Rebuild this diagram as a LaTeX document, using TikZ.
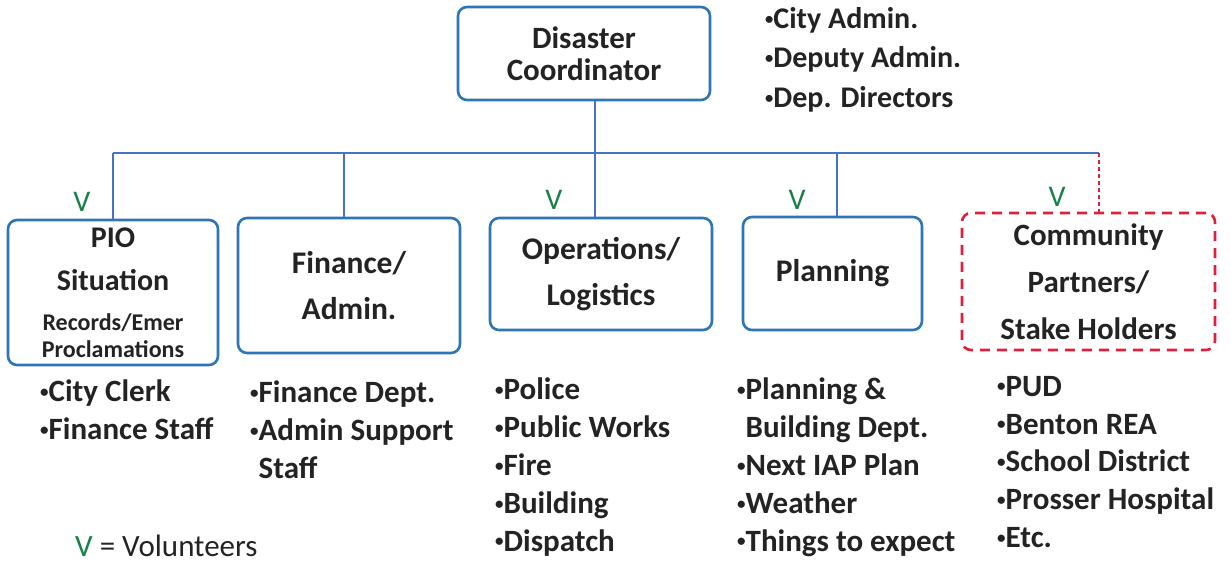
\documentclass[tikz,border=0pt]{standalone}
\usepackage{fontspec}
\usepackage{graphicx}
\setmainfont{Carlito}
\definecolor{boxblue}{RGB}{46,117,182}
\definecolor{lineblue}{RGB}{68,114,196}
\definecolor{commred}{RGB}{222,32,60}
\definecolor{vgreen}{RGB}{24,128,72}
\definecolor{txt}{RGB}{35,35,35}
\newcommand\bul{\raisebox{0.14em}{\scalebox{0.55}{•}}}
\begin{document}
\begin{tikzpicture}[x=1pt,y=-1pt,
  box/.style={draw=boxblue, line width=2.6pt, rounded corners=9pt, align=center, text=txt,
    font=\fontsize{31.5}{46}\selectfont\bfseries, inner sep=0pt},
  conn/.style={draw=lineblue, line width=1.1pt},
  vmark/.style={text=vgreen, inner sep=0pt, font=\fontsize{30}{34}\selectfont},
  lst/.style={anchor=north west, align=left, inner sep=0pt, text=txt,
    font=\fontsize{31}{37.8}\selectfont\bfseries}]
\useasboundingbox (0,0) rectangle (1231,563);

% boxes
\node[box, minimum width=252pt, minimum height=93pt, font=\fontsize{31}{32}\selectfont\bfseries] (top) at (584,53.5) {Disaster\\Coordinator};
\node[box, minimum width=210pt, minimum height=145pt, font=\fontsize{30}{40}\selectfont\bfseries] (pio) at (113,292.5)
  {PIO\\[3pt]Situation\\{\fontsize{24}{40}\selectfont Records/Emer}\\[-13pt]{\fontsize{24}{40}\selectfont Proclamations}};
\node[box, minimum width=222pt, minimum height=135pt] (fin) at (349,285.5) {Finance/\\Admin.};
\node[box, minimum width=222pt, minimum height=112pt] (ops) at (601,274) {Operations/\\Logistics};
\node[box, minimum width=179pt, minimum height=113pt] (plan) at (832.5,273.5) {Planning};
\node[box, draw=commred, dash pattern=on 10pt off 7pt, minimum width=253pt, minimum height=137pt,
  font=\fontsize{31}{47}\selectfont\bfseries] (comm) at (1088.5,281.5) {Community\\Partners/\\Stake Holders};

% connectors
\coordinate (bP) at (113,153);
\coordinate (bF) at (344,153);
\coordinate (bO) at (595,153);
\coordinate (bL) at (837,153);
\coordinate (bC) at (1099,153);
\draw[conn] (bP) -- (bC);
\draw[conn] (top.south -| bO) -- (bO |- ops.north);
\draw[conn] (bP) -- (bP |- pio.north);
\draw[conn] (bF) -- (bF |- fin.north);
\draw[conn] (bL) -- (bL |- plan.north);
\draw[draw=commred, line width=1.1pt, dash pattern=on 4pt off 3pt] (bC) -- (bC |- comm.north);

% volunteer marks
\node[vmark] (v1) at (82,202) {V};
\node[vmark] (v2) at (554,200) {V};
\node[vmark] (v3) at (797,200) {V};
\node[vmark] (v4) at (1057,197) {V};

% lists
\node[lst, font=\fontsize{30}{39.5}\selectfont\bfseries] (ltop) at (765,7) {\bul City Admin.\\\bul Deputy Admin.\\\bul Dep. Directors};
\node[lst] (lpio) at (40,380) {\bul City Clerk\\\bul Finance Staff};
\node[lst] (lfin) at (250,381) {\bul Finance Dept.\\\bul Admin Support\\\phantom{\bul}Staff};
\node[lst] (lops) at (495,378) {\bul Police\\\bul Public Works\\\bul Fire\\\bul Building\\\bul Dispatch};
\node[lst] (lplan) at (737,378) {\bul Planning \&\\\phantom{\bul}Building Dept.\\\bul Next IAP Plan\\\bul Weather\\\bul Things to expect};
\node[lst] (lcomm) at (997,376) {\bul PUD\\\bul Benton REA\\\bul School District\\\bul Prosser Hospital\\\bul Etc.};

% legend
\node[anchor=west, inner sep=0pt, text=txt, font=\fontsize{31}{34}\selectfont] (legend) at (75,546) {\textcolor{vgreen}{V} = Volunteers};
\end{tikzpicture}
\end{document}
